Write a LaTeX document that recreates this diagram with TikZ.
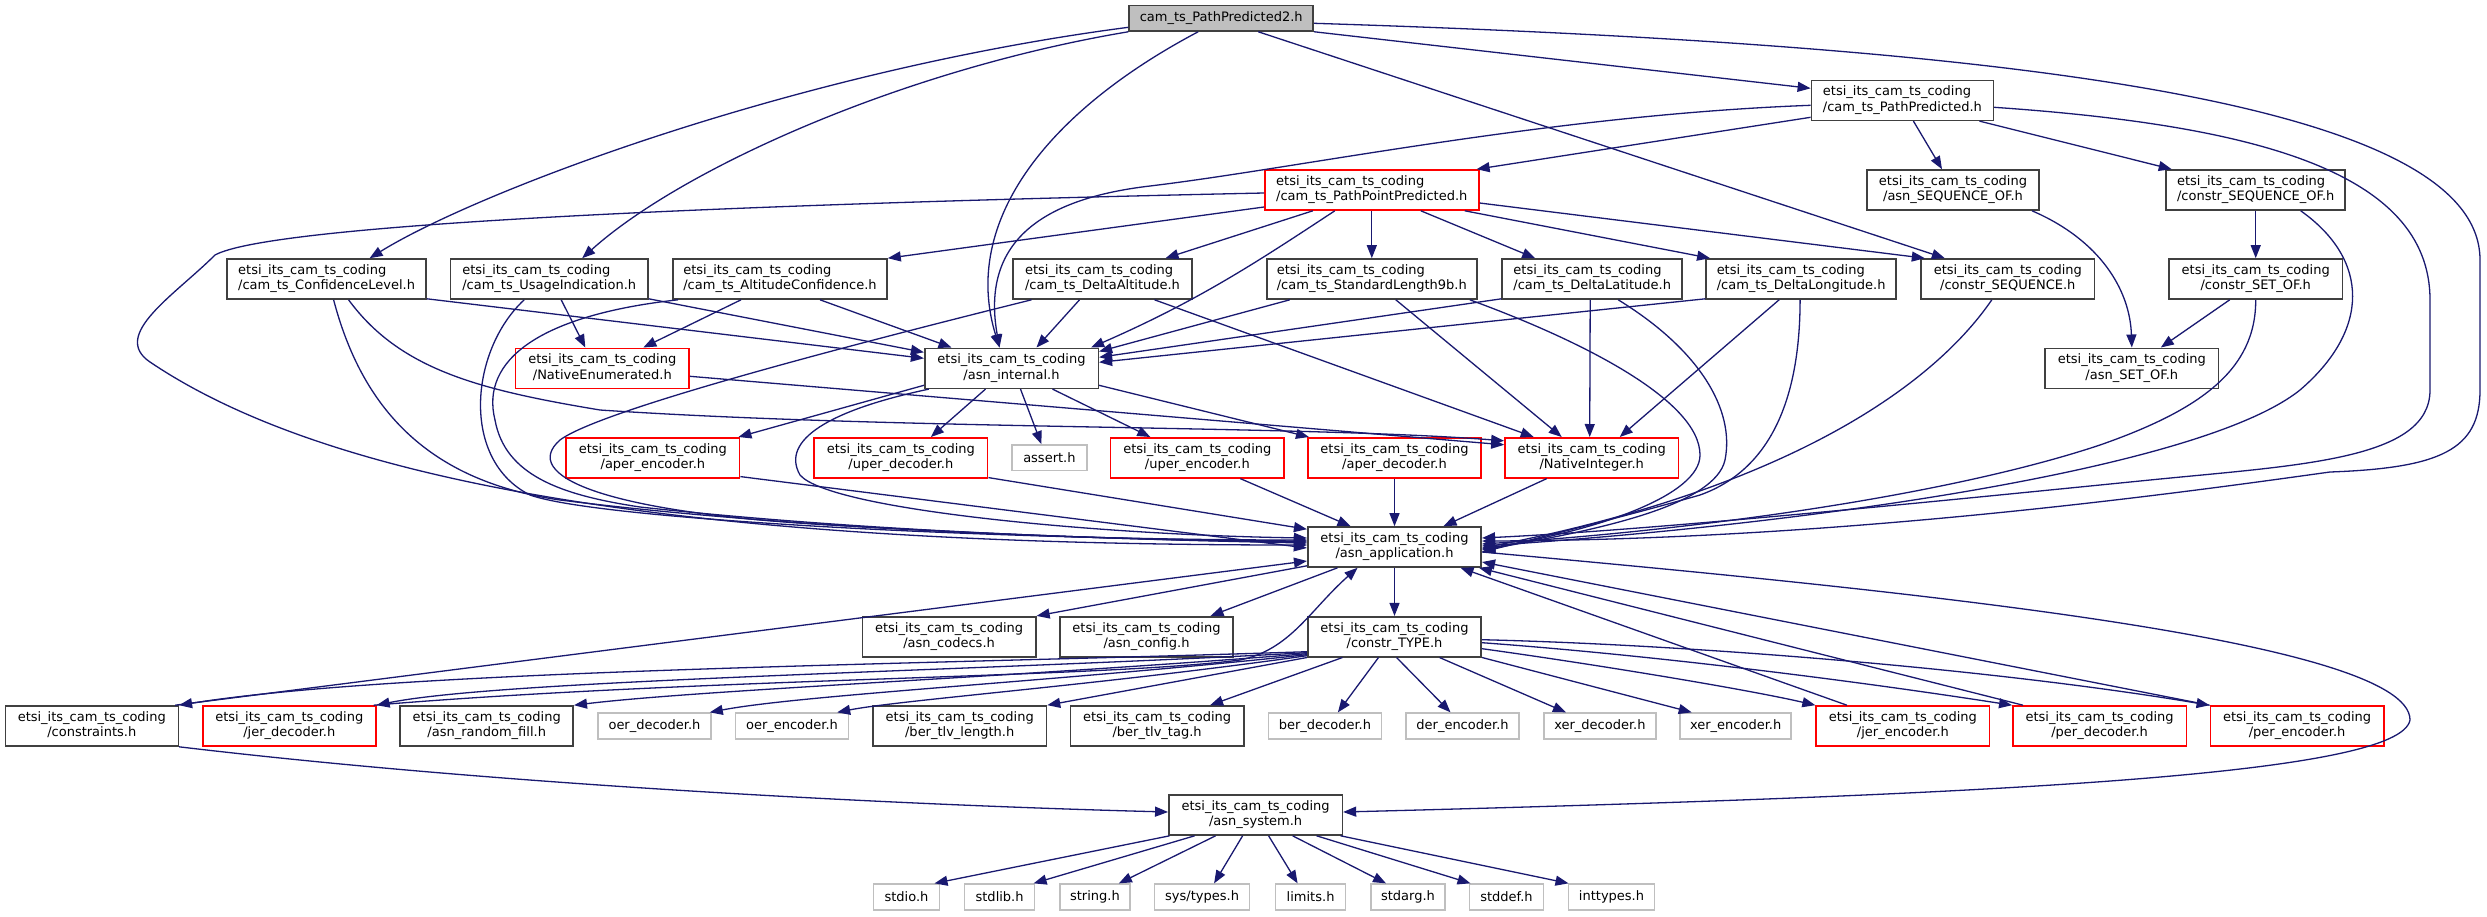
\documentclass[tikz,border=0pt]{standalone}
\usepackage{fontspec}
\setmainfont{DejaVu Sans}
\usetikzlibrary{arrows.meta}

\definecolor{dgEdge}{HTML}{191970}
\definecolor{dgLine}{HTML}{404040}
\definecolor{dgRoot}{HTML}{BFBFBF}
\definecolor{dgExt}{HTML}{BFBFBF}
\definecolor{dgTrunc}{HTML}{FF0000}

\newcommand{\hpath}[1]{\begin{tabular}{@{}l@{}}etsi\_its\_cam\_ts\_coding\\\hfil#1\end{tabular}}

\tikzset{
  hfile/.style={draw=dgLine, fill=white, line width=1.6pt, minimum height=40pt,
    inner sep=0pt, font=\fontsize{13}{15.5}\selectfont},
  rootfile/.style={hfile, fill=dgRoot, minimum height=25.3pt},
  cutfile/.style={hfile, draw=dgTrunc},
  sysfile/.style={hfile, draw=dgExt, minimum height=25.7pt},
  dep/.style={draw=dgEdge, line width=1.3pt, -{Triangle[length=13pt,width=10pt]}},
}

\begin{document}
\begin{tikzpicture}[x=1pt, y=-1pt]
  \fill[white] (0,0) rectangle (2487,916);
  \useasboundingbox (0,0) rectangle (2487,916);

  % top file
  \node[rootfile, minimum width=184] (root) at (1221.2,18.3) {cam\_ts\_PathPredicted2.h};

  % path types
  \node[hfile, minimum width=182] (pathpred) at (1902.4,100.3) {\hpath{/cam\_ts\_PathPredicted.h}};
  \node[cutfile, minimum width=214] (pathpoint) at (1371.8,190) {\hpath{/cam\_ts\_PathPointPredicted.h}};
  \node[hfile, minimum width=172.5] (seqof) at (1953,190) {\hpath{/asn\_SEQUENCE\_OF.h}};
  \node[hfile, minimum width=179] (cseqof) at (2255.7,190) {\hpath{/constr\_SEQUENCE\_OF.h}};

  % element types
  \node[hfile, minimum width=199] (conflvl) at (326.6,279) {\hpath{/cam\_ts\_ConfidenceLevel.h}};
  \node[hfile, minimum width=197.5] (usage) at (549.2,279) {\hpath{/cam\_ts\_UsageIndication.h}};
  \node[hfile, minimum width=214] (altconf) at (780,279) {\hpath{/cam\_ts\_AltitudeConfidence.h}};
  \node[hfile, minimum width=179] (deltaalt) at (1102.5,279) {\hpath{/cam\_ts\_DeltaAltitude.h}};
  \node[hfile, minimum width=210] (stdlen) at (1371.8,279) {\hpath{/cam\_ts\_StandardLength9b.h}};
  \node[hfile, minimum width=180] (deltalat) at (1592.2,279) {\hpath{/cam\_ts\_DeltaLatitude.h}};
  \node[hfile, minimum width=190] (deltalon) at (1801.1,279) {\hpath{/cam\_ts\_DeltaLongitude.h}};
  \node[hfile, minimum width=173.5] (cseq) at (2007.8,279) {\hpath{/constr\_SEQUENCE.h}};
  \node[hfile, minimum width=173.5] (csetof) at (2255.7,279) {\hpath{/constr\_SET\_OF.h}};

  \node[cutfile, minimum width=173.6] (natenum) at (602.3,368.3) {\hpath{/NativeEnumerated.h}};
  \node[hfile, minimum width=173.6] (internal) at (1011.5,368.3) {\hpath{/asn\_internal.h}};
  \node[hfile, minimum width=173.5] (setof) at (2131.8,368.3) {\hpath{/asn\_SET\_OF.h}};

  % codecs
  \node[cutfile, minimum width=173.5] (aperenc) at (652.9,457.8) {\hpath{/aper\_encoder.h}};
  \node[cutfile, minimum width=173.5] (uperdec) at (900.9,457.8) {\hpath{/uper\_decoder.h}};
  \node[sysfile, minimum width=74.6] (assert) at (1049.4,457.8) {assert.h};
  \node[cutfile, minimum width=173.5] (uperenc) at (1197.3,457.8) {\hpath{/uper\_encoder.h}};
  \node[cutfile, minimum width=173.5] (aperdec) at (1394.5,457.8) {\hpath{/aper\_decoder.h}};
  \node[cutfile, minimum width=173.5] (natint) at (1591.7,457.8) {\hpath{/NativeInteger.h}};

  \node[hfile, minimum width=173.5] (app) at (1394.5,547) {\hpath{/asn\_application.h}};

  \node[hfile, minimum width=173.5] (codecs) at (949.1,636.7) {\hpath{/asn\_codecs.h}};
  \node[hfile, minimum width=173.5] (config) at (1146.5,636.7) {\hpath{/asn\_config.h}};
  \node[hfile, minimum width=173.5] (ctype) at (1394.5,636.7) {\hpath{/constr\_TYPE.h}};

  % constr_TYPE row
  \node[hfile, minimum width=173] (constr) at (91.8,726) {\hpath{/constraints.h}};
  \node[cutfile, minimum width=173] (jerdec) at (289.3,726) {\hpath{/jer\_decoder.h}};
  \node[hfile, minimum width=173] (randfill) at (486.7,726) {\hpath{/asn\_random\_fill.h}};
  \node[sysfile, minimum width=113] (oerdec) at (654.5,726) {oer\_decoder.h};
  \node[sysfile, minimum width=112.8] (oerenc) at (792,726) {oer\_encoder.h};
  \node[hfile, minimum width=173.5] (tlvlen) at (959.7,726) {\hpath{/ber\_tlv\_length.h}};
  \node[hfile, minimum width=173.5] (tlvtag) at (1157.1,726) {\hpath{/ber\_tlv\_tag.h}};
  \node[sysfile, minimum width=113] (berdec) at (1324.9,726) {ber\_decoder.h};
  \node[sysfile, minimum width=113] (derenc) at (1462.5,726) {der\_encoder.h};
  \node[sysfile, minimum width=112] (xerdec) at (1599.9,726) {xer\_decoder.h};
  \node[sysfile, minimum width=111] (xerenc) at (1735.7,726) {xer\_encoder.h};
  \node[cutfile, minimum width=173.5] (jerenc) at (1902.9,726) {\hpath{/jer\_encoder.h}};
  \node[cutfile, minimum width=173.5] (perdec) at (2099.6,726) {\hpath{/per\_decoder.h}};
  \node[cutfile, minimum width=173.5] (perenc) at (2297.1,726) {\hpath{/per\_encoder.h}};

  \node[hfile, minimum width=173.5] (system) at (1255.6,815) {\hpath{/asn\_system.h}};

  % from the top file
  \draw[dep] ([yshift=-9pt]root.west) .. controls (800,70) and (480,190) .. ([xshift=43pt]conflvl.north);
  \draw[dep] (root.south west) .. controls (900,70) and (680,170) .. ([xshift=33pt]usage.north);
  \draw[dep] ([xshift=-23pt]root.south) .. controls (1050,110) and (960,220) .. ([xshift=-12pt]internal.north);
  \draw[dep] ([xshift=37pt]root.south) -- ([xshift=-63pt]cseq.north);
  \draw[dep] (root.south east) -- ([yshift=12pt]pathpred.west);
  \draw[dep] ([yshift=-5pt]root.east) .. controls (2000,45) and (2480,100) .. (2480,260) -- (2480,390)
    .. controls (2480,450) and (2440,468) .. (2330,472) .. controls (2200,490) and (1850,540) .. ([yshift=6pt]app.east);

  % from PathPredicted
  \draw[dep] ([yshift=-17pt]pathpred.west) -- ([xshift=-3pt]pathpoint.north east);
  \draw[dep] ([yshift=-5pt]pathpred.west) .. controls (1550,115) and (1300,168) .. (1150,186)
    .. controls (1030,200) and (982,250) .. ([xshift=-12pt]internal.north);
  \draw[dep] ([xshift=11pt]pathpred.south) -- ([xshift=-11pt]seqof.north);
  \draw[dep] ([xshift=77pt]pathpred.south) -- ([xshift=-84pt]cseqof.north);
  \draw[dep] ([yshift=-7pt]pathpred.east) .. controls (2250,125) and (2430,170) .. (2430,300) -- (2430,390)
    .. controls (2430,460) and (2300,465) .. (2150,480) .. controls (1900,505) and (1650,530) .. ([yshift=9pt]app.east);

  % from PathPointPredicted
  \draw[dep] ([yshift=-17pt]pathpoint.west) -- (altconf.north east);
  \draw[dep] ([xshift=-59pt]pathpoint.south) -- ([xshift=63pt]deltaalt.north);
  \draw[dep] (pathpoint.south) -- (stdlen.north);
  \draw[dep] ([xshift=49pt]pathpoint.south) -- ([xshift=-57pt]deltalat.north);
  \draw[dep] ([xshift=93pt]pathpoint.south) -- ([xshift=-91pt]deltalon.north);
  \draw[dep] ([yshift=-13pt]pathpoint.east) -- ([xshift=-83pt]cseq.north);
  \draw[dep] ([xshift=-37pt]pathpoint.south) .. controls (1260,260) and (1200,300) .. ([xshift=-8pt]internal.north east);
  \draw[dep] ([yshift=-3pt]pathpoint.west) .. controls (700,205) and (270,225) .. (215,255)
    .. controls (175,295) and (110,335) .. (150,362) .. controls (350,497) and (750,545) .. ([yshift=2pt]app.west);

  % from ConfidenceLevel
  \draw[dep] ([yshift=1pt]conflvl.south east) -- ([yshift=10pt]internal.west);
  \draw[dep] ([xshift=7pt]conflvl.south) .. controls (360,400) and (420,480) .. (560,500)
    .. controls (800,530) and (1100,540) .. ([yshift=6pt]app.west);
  \draw[dep] ([xshift=22pt]conflvl.south) .. controls (400,370) and (480,390) .. (600,410)
    .. controls (900,430) and (1300,425) .. ([yshift=17pt]natint.west);

  % from UsageIndication
  \draw[dep] ([xshift=12pt]usage.south) -- ([xshift=-17pt]natenum.north);
  \draw[dep] ([yshift=1pt]usage.south east) -- ([yshift=16pt]internal.west);
  \draw[dep] ([xshift=-25pt]usage.south) .. controls (470,350) and (460,460) .. (530,495)
    .. controls (600,520) and (1000,540) .. ([yshift=7pt]app.west);

  % from AltitudeConfidence
  \draw[dep] ([xshift=-39pt]altconf.south) -- ([xshift=41pt]natenum.north);
  \draw[dep] ([xshift=40pt]altconf.south) -- ([xshift=-60pt]internal.north);
  \draw[dep] ([xshift=-102pt]altconf.south) .. controls (540,315) and (480,360) .. (495,420)
    .. controls (505,475) and (560,495) .. (640,507) .. controls (850,530) and (1100,540) .. ([yshift=5pt]app.west);

  % from DeltaAltitude
  \draw[dep] ([xshift=-23pt]deltaalt.south) -- ([xshift=25pt]internal.north);
  \draw[dep] ([xshift=52pt]deltaalt.south) -- ([xshift=-58pt]natint.north);
  \draw[dep] ([xshift=-71pt]deltaalt.south) .. controls (850,345) and (600,410) .. (560,440)
    .. controls (520,475) and (600,512) .. (830,525) .. controls (1000,535) and (1150,540) .. ([yshift=4pt]app.west);

  % from StandardLength9b
  \draw[dep] ([xshift=-82pt]stdlen.south) -- ([yshift=-4pt]internal.north east);
  \draw[dep] ([xshift=24pt]stdlen.south) -- ([xshift=-30pt]natint.north);
  \draw[dep] ([xshift=98pt]stdlen.south) .. controls (1580,340) and (1700,400) .. (1700,455)
    .. controls (1700,495) and (1600,530) .. ([yshift=-2pt]app.east);

  % from DeltaLatitude
  \draw[dep] ([yshift=1pt]deltalat.south west) -- ([yshift=11pt]internal.east);
  \draw[dep] ([xshift=-2pt]deltalat.south) -- ([xshift=-2pt]natint.north);
  \draw[dep] ([xshift=26pt]deltalat.south) .. controls (1700,350) and (1735,410) .. (1725,460)
    .. controls (1715,505) and (1600,530) .. ([yshift=-3pt]app.east);

  % from DeltaLongitude
  \draw[dep] ([yshift=1pt]deltalon.south west) -- ([yshift=6pt]internal.east);
  \draw[dep] ([xshift=-22pt]deltalon.south) -- ([xshift=28pt]natint.north);
  \draw[dep] ([xshift=-1pt]deltalon.south) .. controls (1800,400) and (1770,470) .. (1700,495)
    .. controls (1630,515) and (1550,535) .. ([yshift=-5pt]app.east);

  \draw[dep] ([yshift=-8pt]natenum.east) -- ([yshift=13pt]natint.west);

  % SEQUENCE_OF and SET_OF
  \draw[dep] ([xshift=79pt]seqof.south) .. controls (2100,240) and (2130,290) .. (setof.north);
  \draw[dep] (cseqof.south) -- (csetof.north);
  \draw[dep] ([xshift=45pt]cseqof.south) .. controls (2370,260) and (2370,330) .. (2300,390)
    .. controls (2200,470) and (1800,525) .. ([yshift=1pt]app.east);
  \draw[dep] ([xshift=-26pt]csetof.south) -- ([xshift=29pt]setof.north);
  \draw[dep] (csetof.south) .. controls (2256,370) and (2200,410) .. (2100,445)
    .. controls (1950,495) and (1700,530) .. ([yshift=3pt]app.east);
  \draw[dep] ([xshift=-16pt]cseq.south) .. controls (1930,390) and (1780,490) .. ([yshift=-1pt]app.east);

  % from asn_internal
  \draw[dep] ([xshift=-26pt]internal.south) -- ([xshift=30pt]uperdec.north);
  \draw[dep] ([xshift=9pt]internal.south) -- ([xshift=-8pt]assert.north);
  \draw[dep] ([xshift=41pt]internal.south) -- ([xshift=-47pt]uperenc.north);
  \draw[dep] ([yshift=-17pt]internal.east) -- ([xshift=2pt]aperdec.north west);
  \draw[dep] ([yshift=-17pt]internal.west) -- ([xshift=-2pt]aperenc.north east);
  \draw[dep] ([xshift=5pt]internal.south west) .. controls (830,410) and (780,440) .. (800,475)
    .. controls (830,510) and (1100,535) .. ([yshift=9pt]app.west);

  \draw[dep] ([yshift=1pt]uperdec.south east) -- ([yshift=-3pt]app.north west);
  \draw[dep] ([xshift=43pt]uperenc.south) -- ([xshift=-44pt]app.north);
  \draw[dep] (aperdec.south) -- (app.north);
  \draw[dep] ([yshift=2pt]aperenc.south east) -- ([yshift=-1pt]app.west);
  \draw[dep] ([xshift=-45pt]natint.south) -- ([xshift=49pt]app.north);

  % from asn_application
  \draw[dep] ([yshift=2pt]app.south west) -- (codecs.north east);
  \draw[dep] ([xshift=-57pt]app.south) -- ([xshift=64pt]config.north);
  \draw[dep] (app.south) -- (ctype.north);
  \draw[dep] ([yshift=-5pt]app.east) .. controls (1900,590) and (2410,640) .. (2410,720)
    .. controls (2400,775) and (2000,795) .. ([yshift=3pt]system.east);

  % from constr_TYPE
  \draw[dep] ([yshift=-15pt]ctype.west) .. controls (900,665) and (400,670) .. (constr.north east);
  \draw[dep] ([yshift=-16pt]ctype.west) .. controls (950,672) and (500,680) .. (jerdec.north east);
  \draw[dep] ([yshift=-17pt]ctype.west) .. controls (1000,678) and (700,690) .. (randfill.north east);
  \draw[dep] ([yshift=-18pt]ctype.west) .. controls (1050,682) and (800,695) .. ([xshift=-2pt]oerdec.north east);
  \draw[dep] ([yshift=-19pt]ctype.west) .. controls (1100,685) and (900,700) .. ([xshift=-12pt]oerenc.north east);
  \draw[dep] (ctype.south west) -- (tlvlen.north east);
  \draw[dep] ([xshift=-52pt]ctype.south) -- ([xshift=53pt]tlvtag.north);
  \draw[dep] ([xshift=-16pt]ctype.south) -- ([xshift=13pt]berdec.north);
  \draw[dep] ([xshift=2pt]ctype.south) -- ([xshift=-12pt]derenc.north);
  \draw[dep] ([xshift=45pt]ctype.south) -- ([xshift=-34pt]xerdec.north);
  \draw[dep] (ctype.south east) -- ([xshift=-44pt]xerenc.north);
  \draw[dep] ([yshift=-12pt]ctype.east) .. controls (1600,665) and (1750,690) .. (jerenc.north west);
  \draw[dep] ([yshift=-6pt]ctype.east) .. controls (1650,655) and (1850,680) .. (perdec.north west);
  \draw[dep] ([yshift=-3pt]ctype.east) .. controls (1700,645) and (2000,670) .. (perenc.north west);

  % back into asn_application
  \draw[dep] ([xshift=-4pt]constr.north east) -- ([yshift=-14pt]app.west);
  \draw[dep] ([xshift=-3pt]jerdec.north east) .. controls (700,678) and (1100,678) .. (1240,660)
    .. controls (1290,650) and (1310,610) .. ([xshift=-37pt]app.south);
  \draw[dep] ([xshift=-56pt]jerenc.north) -- ([xshift=66pt]app.south);
  \draw[dep] ([xshift=11pt]perdec.north west) -- ([xshift=-3pt]app.south east);
  \draw[dep] (perenc.north west) -- ([yshift=-15pt]app.east);

  \draw[dep] (constr.south east) .. controls (500,785) and (900,805) .. ([yshift=3pt]system.west);

  % system headers
  \foreach \nm/\px/\bw/\lbl/\sx/\ex in {stdio/906.5/66/stdio.h/-86/28, stdlib/999.6/70/stdlib.h/-61/34,
      string/1094.9/70/string.h/-40/24, systypes/1202.1/95/{sys/types.h}/-13/12,
      limits/1310.6/70/limits.h/13/-13, stdarg/1408/74/stdarg.h/37/-22,
      stddef/1506.5/74/stddef.h/61/-36, inttypes/1611.5/86/inttypes.h/85/-43} {
    \node[sysfile, minimum width=\bw] (\nm) at (\px,897) {\lbl};
    \draw[dep] ([xshift=\sx pt]system.south) -- ([xshift=\ex pt]\nm.north);
  }
\end{tikzpicture}
\end{document}
